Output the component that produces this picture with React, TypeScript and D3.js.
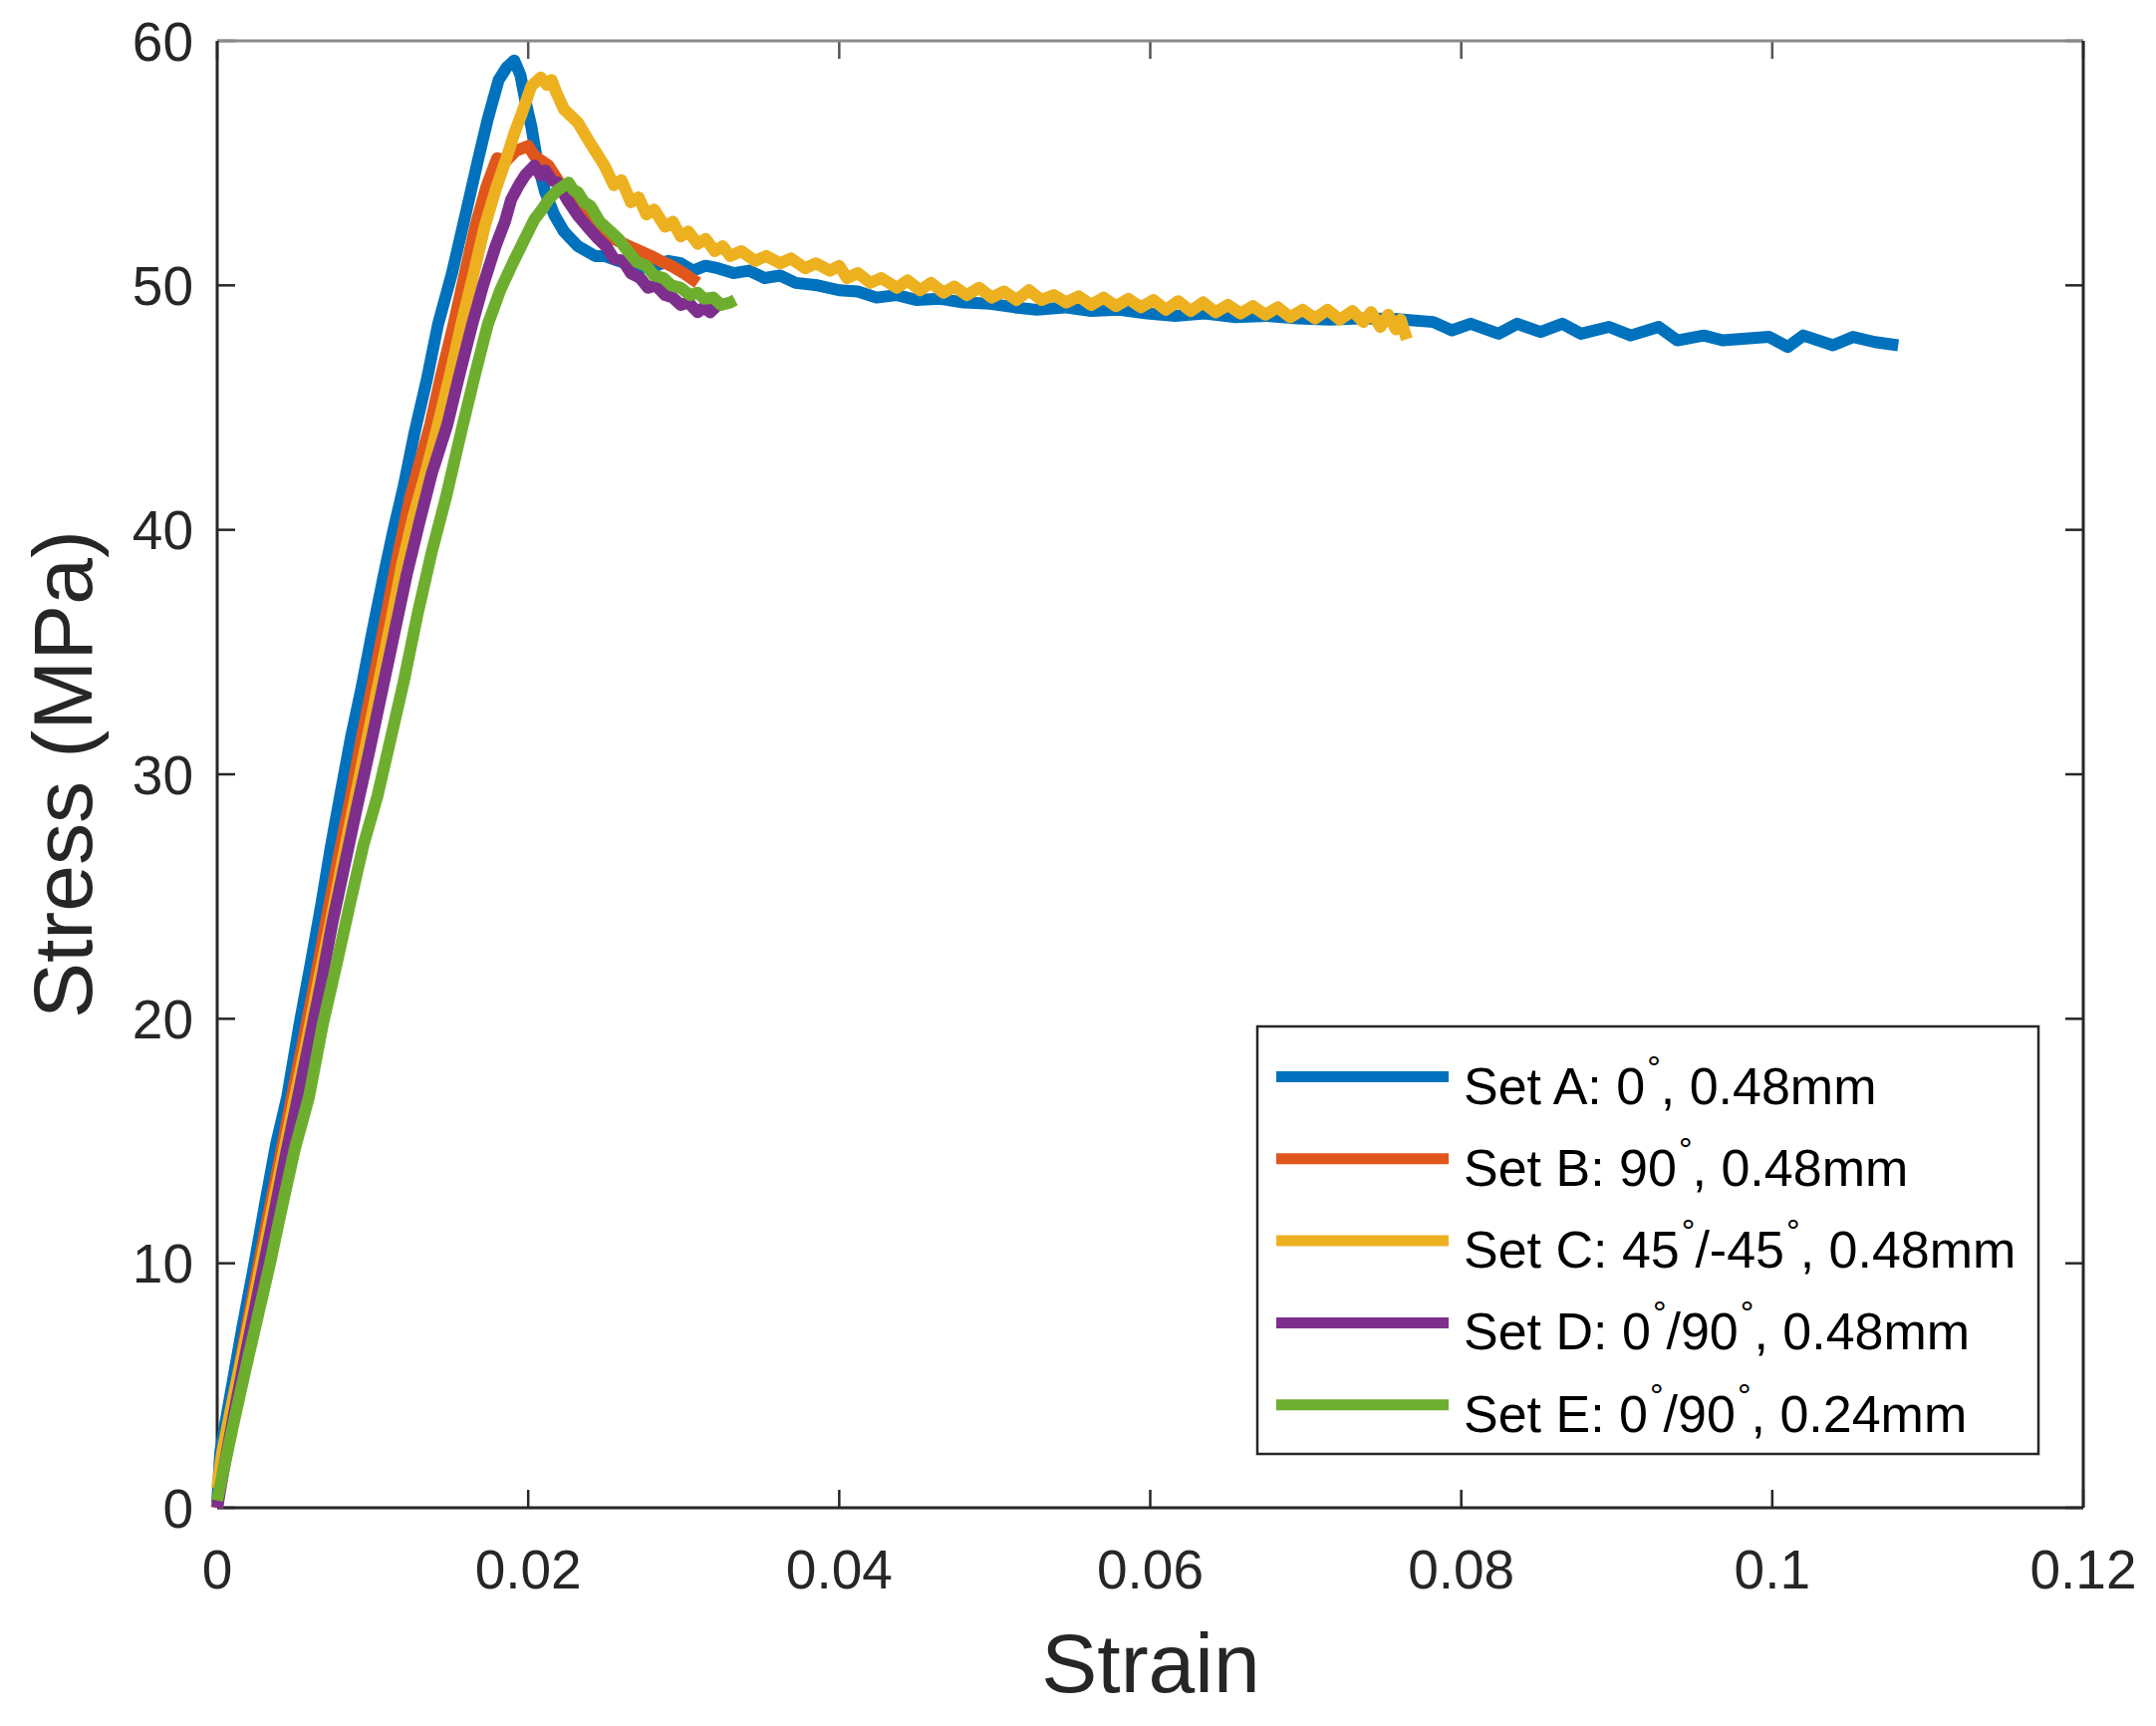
import React from "react";
import * as d3 from "d3";

// ---------- data (strain, stress MPa) ----------
const setA: [number, number][] = [
  [0.0, 0.2], [0.0002, 2.3], [0.0009, 4.8], [0.0016, 7.3], [0.0024, 10.0], [0.0031, 12.5],
  [0.0038, 14.9], [0.0045, 16.8], [0.0053, 19.8], [0.006, 22.2], [0.0067, 24.7], [0.0073, 27.0],
  [0.0079, 29.1], [0.0086, 31.5], [0.0093, 33.6], [0.01, 35.9], [0.0107, 38.1], [0.0113, 39.9],
  [0.012, 41.8], [0.0127, 44.0], [0.0135, 46.2], [0.0142, 48.4], [0.0151, 50.5], [0.0159, 52.7],
  [0.0168, 55.2], [0.0174, 56.8], [0.0181, 58.4], [0.0186, 58.9], [0.0191, 59.2], [0.0195, 58.6],
  [0.0198, 57.6], [0.0202, 56.5], [0.0206, 55.0], [0.0211, 53.8], [0.0217, 52.85], [0.0223, 52.2],
  [0.0232, 51.6], [0.0243, 51.2], [0.0249, 51.2], [0.0258, 51.0], [0.0268, 50.8], [0.0278, 50.7],
  [0.029, 51.0], [0.0298, 50.9], [0.0306, 50.6], [0.0314, 50.8], [0.0322, 50.7], [0.0332, 50.5],
  [0.0342, 50.6], [0.0352, 50.3], [0.0362, 50.4], [0.0372, 50.1], [0.0386, 50.0], [0.04, 49.8],
  [0.0412, 49.75], [0.0424, 49.5], [0.0437, 49.6], [0.045, 49.4], [0.0465, 49.45], [0.048, 49.3],
  [0.0497, 49.25], [0.0513, 49.1], [0.0527, 49.0], [0.0545, 49.1], [0.0562, 48.95], [0.058, 49.0],
  [0.0598, 48.85], [0.0616, 48.75], [0.0635, 48.85], [0.0655, 48.7], [0.0675, 48.75], [0.0695, 48.65],
  [0.0715, 48.6], [0.0735, 48.65], [0.0757, 48.63], [0.0782, 48.5], [0.0794, 48.16], [0.0806, 48.43],
  [0.0824, 48.02], [0.0836, 48.43], [0.0851, 48.09], [0.0865, 48.43], [0.0877, 48.02], [0.0895, 48.3],
  [0.0909, 47.95], [0.0927, 48.3], [0.0939, 47.75], [0.0956, 47.95], [0.0968, 47.75], [0.0998, 47.89],
  [0.101, 47.48], [0.102, 47.95], [0.1039, 47.55], [0.1052, 47.89], [0.1066, 47.68], [0.1081, 47.55],
];

const setB: [number, number][] = [
  [0.0, 0.0], [0.0003, 1.6], [0.001, 4.3], [0.0017, 6.7], [0.0025, 9.4], [0.0033, 12.0],
  [0.0041, 14.5], [0.0048, 16.8], [0.0056, 19.3], [0.0064, 21.9], [0.0071, 24.3], [0.0078, 26.6],
  [0.0086, 29.1], [0.0093, 31.5], [0.0101, 34.0], [0.0109, 36.6], [0.0116, 38.9], [0.0124, 41.3],
  [0.0137, 44.3], [0.0144, 46.3], [0.0152, 48.4], [0.0159, 50.4], [0.0166, 52.4], [0.0173, 54.0],
  [0.018, 55.2], [0.0186, 55.1], [0.0192, 55.5], [0.02, 55.7], [0.0204, 55.3], [0.0213, 54.9],
  [0.0219, 54.3], [0.0225, 53.6], [0.0235, 52.9], [0.0245, 52.3], [0.0255, 51.9], [0.0265, 51.6],
  [0.0272, 51.4], [0.0279, 51.2], [0.0285, 51.0], [0.0292, 50.8], [0.03, 50.5], [0.0309, 50.1],
];

const setC: [number, number][] = [
  [0.0, 0.8], [0.0003, 2.2], [0.001, 4.4], [0.0018, 6.8], [0.0026, 9.3], [0.0034, 11.8],
  [0.0042, 14.3], [0.005, 16.8], [0.0058, 19.2], [0.0066, 21.8], [0.0074, 24.3], [0.0081, 26.6],
  [0.0089, 29.1], [0.0097, 31.6], [0.0105, 34.1], [0.0112, 36.3], [0.0119, 38.6], [0.0126, 40.5],
  [0.0134, 42.3], [0.0142, 44.3], [0.015, 46.4], [0.0157, 48.4], [0.0165, 50.5], [0.0172, 52.4],
  [0.0179, 53.9], [0.0186, 55.2], [0.0191, 56.2], [0.0196, 57.05], [0.0202, 58.15], [0.0208, 58.5],
  [0.0212, 58.2], [0.0215, 58.4], [0.0218, 57.9], [0.0223, 57.2], [0.0232, 56.65], [0.024, 55.8],
  [0.0249, 54.9], [0.0255, 54.1], [0.026, 54.3], [0.0266, 53.4], [0.0271, 53.6], [0.0276, 52.9],
  [0.0281, 53.1], [0.0288, 52.4], [0.0293, 52.6], [0.0298, 52.0], [0.0303, 52.2], [0.0309, 51.7],
  [0.0314, 51.9], [0.032, 51.4], [0.0325, 51.6], [0.033, 51.2], [0.0337, 51.4], [0.0346, 51.0],
  [0.0353, 51.2], [0.0362, 50.9], [0.0369, 51.1], [0.0378, 50.7], [0.0385, 50.9], [0.0394, 50.6],
  [0.04, 50.8], [0.0405, 50.3], [0.0412, 50.5], [0.042, 50.1], [0.0427, 50.3], [0.0437, 49.9],
  [0.0444, 50.2], [0.0452, 49.8], [0.0459, 50.1], [0.0467, 49.7], [0.0474, 49.95], [0.0482, 49.6],
  [0.049, 49.9], [0.0498, 49.5], [0.0506, 49.75], [0.0514, 49.4], [0.0522, 49.8], [0.053, 49.4],
  [0.0538, 49.6], [0.0546, 49.3], [0.0554, 49.55], [0.0562, 49.2], [0.057, 49.5], [0.0578, 49.15],
  [0.0586, 49.45], [0.0594, 49.1], [0.0602, 49.4], [0.061, 49.0], [0.0618, 49.35], [0.0626, 48.95],
  [0.0634, 49.3], [0.0642, 48.9], [0.065, 49.2], [0.0658, 48.85], [0.0666, 49.15], [0.0674, 48.8],
  [0.0682, 49.1], [0.069, 48.7], [0.0698, 49.0], [0.0706, 48.65], [0.0714, 49.0], [0.0722, 48.6],
  [0.073, 48.95], [0.0737, 48.5], [0.0742, 48.9], [0.0748, 48.3], [0.0753, 48.8], [0.0758, 48.2],
  [0.0761, 48.6], [0.0765, 47.8],
];

const setD: [number, number][] = [
  [0.0, 0.0], [0.0004, 1.5], [0.0011, 3.9], [0.0019, 6.5], [0.0027, 9.0], [0.0035, 11.5],
  [0.0043, 14.1], [0.0051, 16.5], [0.0059, 19.0], [0.0067, 21.5], [0.0074, 23.9], [0.0082, 26.3],
  [0.009, 28.7], [0.0098, 31.0], [0.0106, 33.4], [0.0114, 35.8], [0.0122, 38.2], [0.013, 40.3],
  [0.0138, 42.3], [0.0148, 44.3], [0.0156, 46.4], [0.0164, 48.4], [0.0171, 50.0], [0.0179, 51.6],
  [0.0185, 52.6], [0.0189, 53.5], [0.0194, 54.1], [0.0198, 54.5], [0.0204, 54.9], [0.0208, 54.5],
  [0.0211, 54.7], [0.0215, 54.3], [0.0219, 54.2], [0.0225, 53.5], [0.0232, 52.85], [0.0238, 52.4],
  [0.0245, 51.9], [0.025, 51.6], [0.0255, 51.1], [0.0261, 51.0], [0.0266, 50.5], [0.0272, 50.3],
  [0.0277, 49.9], [0.0282, 50.0], [0.0288, 49.6], [0.0293, 49.5], [0.0298, 49.2], [0.0303, 49.3],
  [0.0309, 48.9], [0.0313, 49.1], [0.0317, 48.9], [0.0322, 49.2],
];

const setE: [number, number][] = [
  [0.0, 0.3], [0.0003, 1.2], [0.001, 3.3], [0.0018, 5.6], [0.0026, 7.8], [0.0034, 10.0],
  [0.0042, 12.4], [0.005, 14.7], [0.0059, 16.8], [0.0068, 19.8], [0.0077, 22.3], [0.0085, 24.6],
  [0.0094, 27.1], [0.0103, 29.1], [0.0111, 31.3], [0.012, 33.8], [0.0129, 36.6], [0.0138, 39.1],
  [0.0147, 41.3], [0.0158, 44.3], [0.0166, 46.4], [0.0174, 48.4], [0.0182, 49.8], [0.019, 50.9],
  [0.0197, 51.8], [0.0204, 52.7], [0.021, 53.2], [0.0213, 53.5], [0.0219, 53.9], [0.0226, 54.2],
  [0.0229, 53.9], [0.0232, 53.8], [0.0236, 53.4], [0.024, 53.25], [0.0246, 52.6], [0.0253, 52.2],
  [0.0258, 51.9], [0.0264, 51.4], [0.027, 50.95], [0.0276, 50.8], [0.0281, 50.4], [0.0287, 50.3],
  [0.0292, 50.0], [0.0298, 49.9], [0.0304, 49.6], [0.0309, 49.7], [0.0313, 49.45], [0.0319, 49.5],
  [0.0324, 49.2], [0.033, 49.3], [0.0333, 49.4],
];

const xTicks = [0, 0.02, 0.04, 0.06, 0.08, 0.1, 0.12];
const xTickLabels = ["0", "0.02", "0.04", "0.06", "0.08", "0.1", "0.12"];
const yTicks = [0, 10, 20, 30, 40, 50, 60];

// legend label pieces; a degree sign sits between consecutive pieces
const seriesNames: string[][] = [
  ["Set A: 0", ", 0.48mm"],
  ["Set B: 90", ", 0.48mm"],
  ["Set C: 45", "/-45", ", 0.48mm"],
  ["Set D: 0", "/90", ", 0.48mm"],
  ["Set E: 0", "/90", ", 0.24mm"],
];
const seriesColors = ["#0072BD", "#E0561B", "#EDB120", "#7E2F8E", "#6EAE2E"];
const allSeries = [setA, setB, setC, setD, setE];

const W = 2164;
const H = 1732;
const FONT = "'Liberation Sans', Arial, Helvetica, sans-serif";

export default function App() {
  const x = d3.scaleLinear().domain([0, 0.12]).range([218, 2091]);
  const y = d3.scaleLinear().domain([0, 60]).range([1513, 41]);
  const line = d3
    .line<[number, number]>()
    .x((d) => x(d[0]))
    .y((d) => y(d[1]));

  const x0 = x(0), x1 = x(0.12), y0 = y(0), y1 = y(60);
  const tickLen = 18;
  const axisColor = "#262626";

  const legX = 1262, legY = 1030, legW = 784, legH = 429;
  const rowY0 = 1080.5, rowStep = 82.3;
  const supShift = 25;

  return (
    <svg
      width={W}
      height={H}
      viewBox={`0 0 ${W} ${H}`}
      style={{ position: "absolute", left: 0, top: 0, background: "#fff" }}
      fontFamily={FONT}
    >
      <rect x={0} y={0} width={W} height={H} fill="#fff" />
      {xTicks.map((t, i) => (
        <g key={"xt" + i}>
          <line x1={x(t)} x2={x(t)} y1={y0} y2={y0 - tickLen} stroke={axisColor} strokeWidth={2.5} />
          <line x1={x(t)} x2={x(t)} y1={y1} y2={y1 + tickLen} stroke="#555" strokeWidth={2.5} />
          <text x={x(t)} y={1594} textAnchor="middle" fontSize={55} fill="#262626">
            {xTickLabels[i]}
          </text>
        </g>
      ))}
      {yTicks.map((t, i) => (
        <g key={"yt" + i}>
          <line x1={x0} x2={x0 + tickLen} y1={y(t)} y2={y(t)} stroke={axisColor} strokeWidth={2.5} />
          <line x1={x1} x2={x1 - tickLen} y1={y(t)} y2={y(t)} stroke={axisColor} strokeWidth={2.5} />
          <text x={194} y={y(t) + 19.5} textAnchor="end" fontSize={55} fill="#262626">
            {String(t)}
          </text>
        </g>
      ))}
      <line x1={x0} x2={x1} y1={y1} y2={y1} stroke="#8a8a8a" strokeWidth={3} />
      <line x1={x0} x2={x1} y1={y0} y2={y0} stroke={axisColor} strokeWidth={3} />
      <line x1={x0} x2={x0} y1={y0} y2={y1} stroke={axisColor} strokeWidth={3} />
      <line x1={x1} x2={x1} y1={y0} y2={y1} stroke={axisColor} strokeWidth={3} />

      {/* data */}
      {allSeries.map((s, i) => (
        <path
          key={"s" + i}
          d={line(s) || ""}
          fill="none"
          stroke={seriesColors[i]}
          strokeWidth={12}
          strokeLinejoin="round"
          strokeLinecap="butt"
        />
      ))}

      {/* axis labels */}
      <text x={1155} y={1698} textAnchor="middle" fontSize={84} fill="#262626">
        Strain
      </text>
      <text
        transform={`translate(92, 777) rotate(-90)`}
        textAnchor="middle"
        fontSize={84}
        fill="#262626"
      >
        Stress (MPa)
      </text>

      {/* legend */}
      <rect x={legX} y={legY} width={legW} height={legH} fill="#fff" stroke={axisColor} strokeWidth={2.5} />
      {seriesNames.map((parts, i) => {
        const cy = rowY0 + i * rowStep;
        const spans: React.ReactNode[] = [];
        parts.forEach((p, j) => {
          spans.push(
            <tspan key={"p" + j} dy={j === 0 ? 0 : supShift}>
              {p}
            </tspan>
          );
          if (j < parts.length - 1) {
            spans.push(
              <tspan key={"d" + j} fontSize={34} dy={-supShift} dx={2}>
                °
              </tspan>
            );
          }
        });
        return (
          <g key={"lg" + i}>
            <line x1={1281} x2={1454} y1={cy} y2={cy} stroke={seriesColors[i]} strokeWidth={11} />
            <text x={1469} y={cy + 27} fontSize={52} fill="#000">
              {spans}
            </text>
          </g>
        );
      })}
    </svg>
  );
}
